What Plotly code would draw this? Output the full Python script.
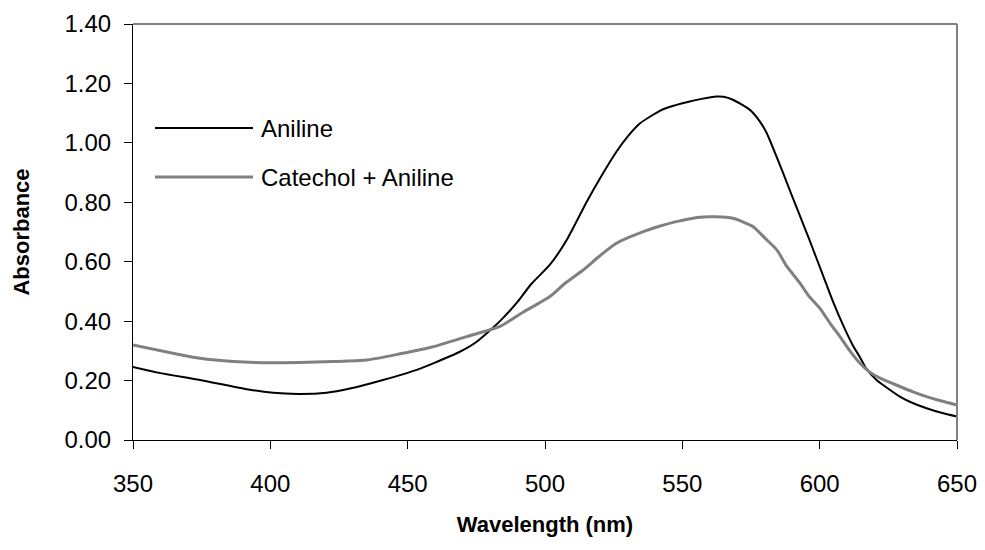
import plotly.graph_objects as go

# Aniline
wl_aniline = [350, 360, 374.4, 391.4, 401, 410, 420.5, 429, 441, 453.3, 459.3, 469, 475, 483.6,
              490, 495, 501.8, 507.9, 515.1, 520, 526, 530, 534.5, 541.8, 545, 552.7, 557,
              562.4, 565, 568.4, 574.6, 578, 580.7, 586.7, 590, 593.9, 596, 598.9, 602,
              604.9, 608.6, 612, 614.7, 617, 620.7, 623.1, 629.2, 633, 638.9, 645, 650]
abs_aniline = [0.246, 0.225, 0.202, 0.171, 0.159, 0.155, 0.159, 0.173, 0.202, 0.236, 0.258, 0.297,
               0.330, 0.400, 0.465, 0.525, 0.590, 0.673, 0.800, 0.880, 0.970, 1.020, 1.065,
               1.108, 1.120, 1.139, 1.148, 1.156, 1.155, 1.145, 1.111, 1.075, 1.033, 0.898,
               0.820, 0.729, 0.680, 0.610, 0.535, 0.465, 0.385, 0.320, 0.278, 0.240, 0.202,
               0.185, 0.146, 0.128, 0.107, 0.090, 0.079]

# Catechol + Aniline
wl_cat = [350, 374.4, 386.5, 401, 422.8, 435, 447.2, 459.3, 471.5, 483.6, 492,
          501.8, 507, 513.9, 520, 526, 535.8, 542, 547.9, 556.4, 562, 568.4, 575.8, 580,
          584.4, 588, 592.9, 596, 600.1, 604, 607.4, 611, 614.7, 618, 622, 629.2, 634,
          638.9, 644, 650]
abs_cat = [0.320, 0.275, 0.264, 0.260, 0.264, 0.269, 0.290, 0.314, 0.348, 0.382, 0.430,
           0.483, 0.525, 0.572, 0.620, 0.662, 0.701, 0.720, 0.735, 0.750, 0.751, 0.746,
           0.718, 0.680, 0.640, 0.585, 0.527, 0.485, 0.443, 0.390, 0.348, 0.300, 0.258,
           0.230, 0.208, 0.180, 0.162, 0.146, 0.132, 0.118]

series_names = ["Aniline", "Catechol + Aniline"]
x_ticks = [350, 400, 450, 500, 550, 600, 650]
y_ticks = [0.0, 0.2, 0.4, 0.6, 0.8, 1.0, 1.2, 1.4]

FONT = "Liberation Sans, Arial, sans-serif"

fig = go.Figure()
fig.add_trace(go.Scatter(x=wl_aniline, y=abs_aniline, mode="lines", name=series_names[0],
                         line=dict(color="black", width=2, shape="spline", smoothing=0.6),
                         showlegend=False))
fig.add_trace(go.Scatter(x=wl_cat, y=abs_cat, mode="lines", name=series_names[1],
                         line=dict(color="#808080", width=3, shape="spline", smoothing=0.6),
                         showlegend=False))

# legend drawn as shapes + text
leg = [(series_names[0], "black", 2, 128), (series_names[1], "#808080", 3, 177)]
W, H = 985, 550
L, R, T, B = 133, 28, 24, 110
pw, ph = W - L - R, H - T - B
for name, col, wd, ypx in leg:
    y = 1 - (ypx - T) / ph
    fig.add_shape(type="line", xref="paper", yref="paper",
                  x0=(155 - L) / pw, x1=(253 - L) / pw, y0=y, y1=y,
                  line=dict(color=col, width=wd))
    fig.add_annotation(xref="paper", yref="paper", x=(259 - L) / pw, y=y, text=name,
                       showarrow=False, xanchor="left", yanchor="middle",
                       font=dict(size=24, color="black", family=FONT))

# top/right border
fig.add_shape(type="line", xref="paper", yref="paper", x0=0, x1=1, y0=1, y1=1,
              line=dict(color="#808080", width=2))
fig.add_shape(type="line", xref="paper", yref="paper", x0=1, x1=1, y0=0, y1=1,
              line=dict(color="#808080", width=2))

fig.update_layout(
    width=W, height=H, margin=dict(l=L, r=R, t=T, b=B, autoexpand=False),
    paper_bgcolor="white", plot_bgcolor="white",
    font=dict(family=FONT, size=24, color="black"),
    xaxis=dict(range=[350, 650], tickvals=x_ticks, ticks="outside", ticklen=8,
               tickcolor="black", showline=True, linecolor="black", linewidth=1,
               showgrid=False, zeroline=False, tickfont=dict(size=24),
               ticklabelstandoff=14, automargin=False,
               title=dict(text="<b>Wavelength (nm)</b>", standoff=20,
                          font=dict(size=22))),
    yaxis=dict(range=[0, 1.4], tickvals=y_ticks, tickformat=".2f", ticks="outside",
               ticklen=8, tickcolor="black", showline=True, linecolor="black",
               linewidth=1, showgrid=False, zeroline=False, tickfont=dict(size=24),
               ticklabelstandoff=8, automargin=False,
               title=dict(text="<b>Absorbance</b>", standoff=28, font=dict(size=22))),
)

fig.write_html("out.html")
